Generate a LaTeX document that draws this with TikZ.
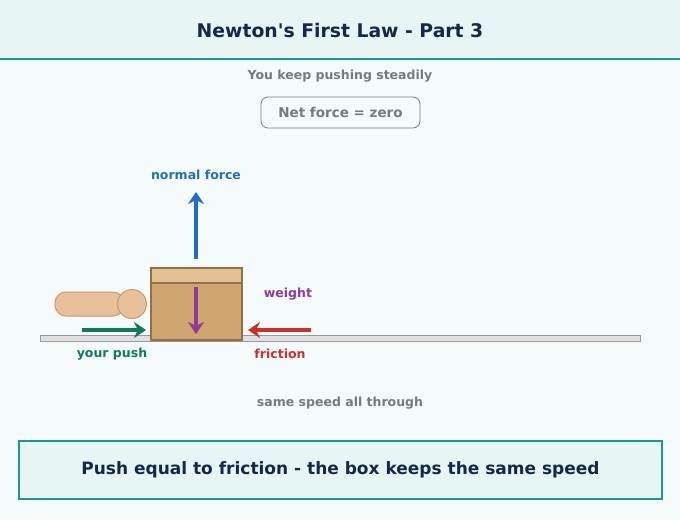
\documentclass[tikz,border=0pt]{standalone}
\usepackage{fontspec}
\setmainfont{DejaVu Sans}
\usetikzlibrary{arrows.meta}
\definecolor{bgc}{HTML}{F5FAFB}
\definecolor{band}{HTML}{E8F5F5}
\definecolor{teal}{HTML}{1A9A8A}
\definecolor{navy}{HTML}{14284A}
\definecolor{txtgray}{HTML}{777B80}
\definecolor{lid}{HTML}{E2C195}
\definecolor{crate}{HTML}{CFA570}
\definecolor{crateedge}{HTML}{94704A}
\definecolor{skin}{HTML}{E8C09A}
\definecolor{skinedge}{HTML}{C89A70}
\definecolor{pushc}{HTML}{0E7A5A}
\definecolor{normc}{HTML}{1F6FBF}
\definecolor{weightc}{HTML}{8E3A96}
\definecolor{fricc}{HTML}{C8322E}
\begin{document}
\begin{tikzpicture}
[x=1pt,y=-1pt,
 every node/.style={font=\bfseries\fontsize{12.5}{14}\selectfont},
 note/.style={text=txtgray},
 force/.style={line width=4pt,-{Stealth[length=12pt,width=16pt,inset=4pt]}},
 thick]
\useasboundingbox (0,0) rectangle (680,520);
\fill[bgc] (0,0) rectangle (680,520);
\fill[band] (0,0) rectangle (680,59);
\draw[teal,line width=2.5pt] (0,59) -- (680,59);
\node[text=navy,font=\bfseries\fontsize{18.8}{20}\selectfont] (title) at (340,30) {Newton\textquotesingle s First Law - Part 3};
\node[note] (sub) at (340,76) {You keep pushing steadily};
\node[note,draw=txtgray,fill=bgc,rounded corners=7pt,minimum width=159pt,minimum height=31pt,font=\bfseries\fontsize{13.5}{15}\selectfont] (net) at (340.5,112.5) {Net force = zero};
% ground and box
\draw[fill=black!12,draw=black!40,line width=1pt] (40,335) rectangle (640,341);
\draw[fill=crate,draw=crateedge,line width=2pt] (151,268) rectangle (242,340);
\draw[fill=lid,draw=crateedge,line width=2pt] (151,268) rectangle (242,283);
% hand
\draw[fill=skin,draw=skinedge,line width=1pt,rounded corners=11pt] (55,292) rectangle (124,316);
\draw[fill=skin,draw=skinedge,line width=1pt] (132,304) circle (14.5);
% forces
\coordinate (nA) at (196,259); \coordinate (nB) at (196,192);
\coordinate (wA) at (196,287); \coordinate (wB) at (196,334);
\coordinate (pA) at (82,330);  \coordinate (pB) at (146,330);
\coordinate (fA) at (311,330); \coordinate (fB) at (248,330);
\draw[force,normc] (nA) -- (nB);
\draw[force,weightc] (wA) -- (wB);
\draw[force,pushc] (pA) -- (pB);
\draw[force,fricc] (fA) -- (fB);
\node[text=normc] (nlab) at (196,175) {normal force};
\node[text=weightc] (wlab) at (288,294) {weight};
\node[text=pushc] (plab) at (112,354) {your push};
\node[text=fricc] (flab) at (280,354) {friction};
\node[note] (speed) at (340,403) {same speed all through};
\node[draw=teal,fill=band,line width=1.5pt,minimum width=643pt,minimum height=58pt,text=navy,font=\bfseries\fontsize{17}{19}\selectfont] (msg) at (340.5,470) {Push equal to friction - the box keeps the same speed};
\end{tikzpicture}
\end{document}
